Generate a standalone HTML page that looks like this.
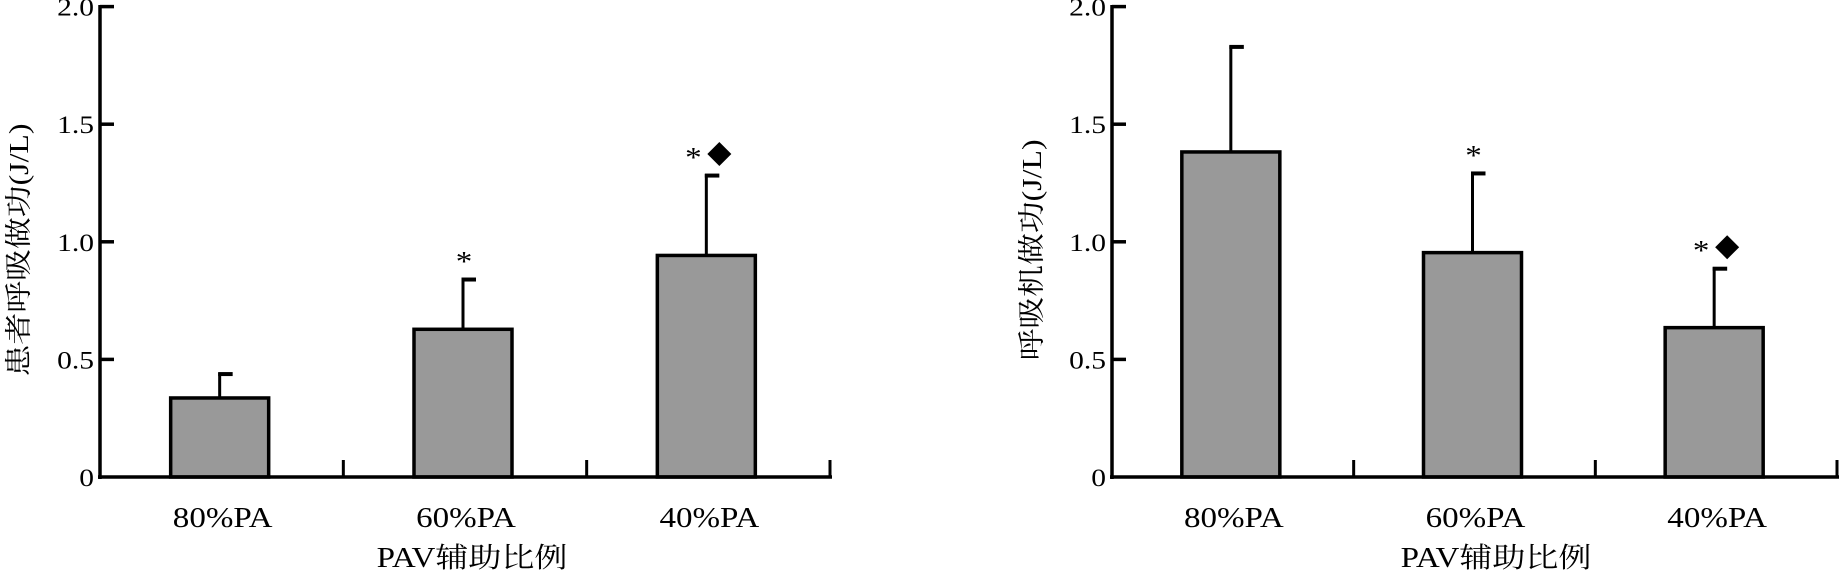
<!DOCTYPE html>
<html><head><meta charset="utf-8"><style>
html,body{margin:0;padding:0;background:#fff;}
svg{display:block;}
text{font-family:"Liberation Serif","Noto Serif CJK SC",serif;fill:#000;}
</style></head><body>
<svg id="chart" width="1847" height="574" viewBox="0 0 1847 574" xmlns="http://www.w3.org/2000/svg"></svg>
<script>
const categories = ["80%PA", "60%PA", "40%PA"];
const yTicks = [0, 0.5, 1.0, 1.5, 2.0];
const yTickLabels = ["0", "0.5", "1.0", "1.5", "2.0"];
const patientMeans = [0.336, 0.628, 0.942];
const patientErr = [0.108, 0.218, 0.346];
const patientMarks = ["", "*", "*◆"];
const ventMeans = [1.382, 0.954, 0.635];
const ventErr = [0.453, 0.343, 0.257];
const ventMarks = ["", "*", "*◆"];

const NS = "http://www.w3.org/2000/svg";
const svg = document.getElementById("chart");
function mk(tag, attrs, parent) {
  const e = document.createElementNS(NS, tag);
  for (const k in attrs) e.setAttribute(k, attrs[k]);
  (parent || svg).appendChild(e);
  return e;
}
function txt(str, x, y, size, anchor, parent, rot) {
  const t = mk("text", {"font-size": size, "text-anchor": anchor,
    transform: "translate(" + x + "," + y + ")" + (rot ? " rotate(-90)" : "") + " scale(1.18,1)"}, parent);
  t.textContent = str;
  return t;
}

function panel(name, axisX, axisEnd, means, errs, marks, yTitle, yTitleX, xTitleX) {
  const g = mk("g", {});
  
  
  const y0 = 477, pxPerUnit = 235.2;
  const yScale = v => y0 - v * pxPerUnit;
  const catW = (axisEnd - axisX) / categories.length;
  const xCenter = i => axisX + catW * (i + 0.5) - 2;
  const barW = 98;

  // bars
  means.forEach((m, i) => {
    const cx = xCenter(i);
    const eTop = yScale(m + errs[i]);
    const el = mk("line", {x1: cx, x2: cx, y1: yScale(m), y2: eTop, stroke: "#000", "stroke-width": 3}, g);
    
    
    const cap = mk("line", {x1: cx - 1.5, x2: cx + 13, y1: eTop + 1.5, y2: eTop + 1.5, stroke: "#000", "stroke-width": 4}, g);
    
    
    const b = mk("rect", {x: cx - barW / 2, y: yScale(m), width: barW, height: y0 - yScale(m), fill: "#999999", stroke: "#000", "stroke-width": 3.5}, g);
    
    
    // significance marks
    const mkStr = marks[i];
    if (mkStr) {
      const cy = eTop - 20;
      if (mkStr.indexOf("◆") >= 0) {
        const s = txt("*", cx - 13, cy + 13, 28, "middle", g);
        
        
        const d = mk("polygon", {points: (cx+13)+","+(cy-12)+" "+(cx+25)+","+cy+" "+(cx+13)+","+(cy+12)+" "+(cx+1)+","+cy, fill: "#000"}, g);
        
        
      } else {
        const s = txt("*", cx + 1, cy + 13, 28, "middle", g);
        
        
      }
    }
    const cl = txt(categories[i], cx + 3, 527, 28, "middle", g);
    
    
  });

  // axes
  const ya = mk("line", {x1: axisX, x2: axisX, y1: 5, y2: y0 + 2, stroke: "#000", "stroke-width": 3.5}, g);
  
  
  const xa = mk("line", {x1: axisX - 2, x2: axisEnd + 2, y1: y0, y2: y0, stroke: "#000", "stroke-width": 3.5}, g);
  
  
  for (let i = 1; i <= categories.length; i++) {
    const tx = axisX + catW * i;
    const t = mk("line", {x1: tx, x2: tx, y1: y0, y2: y0 - 17, stroke: "#000", "stroke-width": 3}, g);
    
    
  }
  yTicks.forEach((v, i) => {
    const y = yScale(v);
    if (v > 0) {
      const t = mk("line", {x1: axisX, x2: axisX + 14, y1: y, y2: y, stroke: "#000", "stroke-width": 3.5}, g);
      
      
    }
    const l = txt(yTickLabels[i], axisX - 6, y + 9, 25, "end", g);
    
    
  });
  const yt = txt(yTitle, yTitleX, 250, 27, "middle", g, true);
  
  
  const xt = txt("PAV辅助比例", xTitleX, 567, 28, "middle", g);
  
  
}

panel("patient-work-chart", 100, 830, patientMeans, patientErr, patientMarks, "患者呼吸做功(J/L)", 28, 472);
panel("ventilator-work-chart", 1112, 1837, ventMeans, ventErr, ventMarks, "呼吸机做功(J/L)", 1041, 1496);
</script>
</body></html>
